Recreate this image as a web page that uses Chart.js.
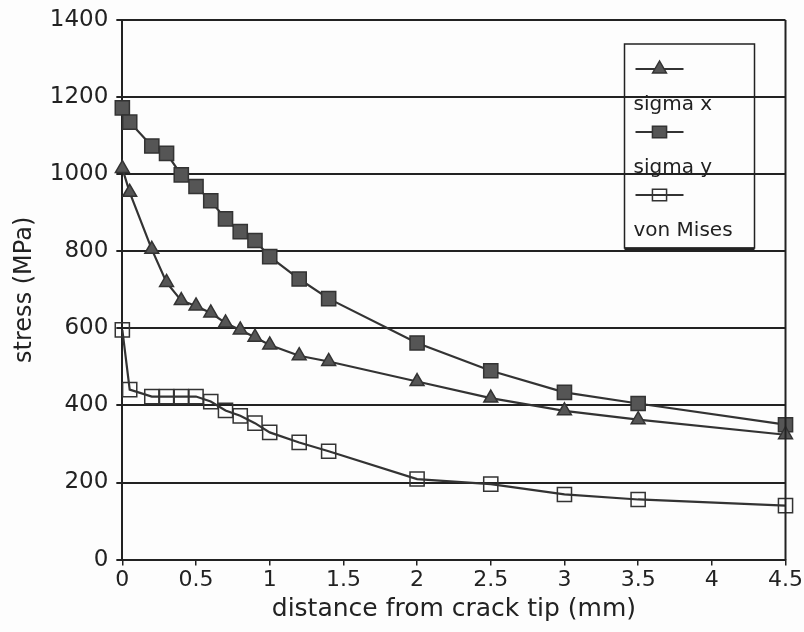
<!DOCTYPE html>
<html>
<head>
<meta charset="utf-8">
<script src="https://cdn.jsdelivr.net/npm/chart.js@4"></script>
<style>
  html, body { margin: 0; padding: 0; background: #fdfdfd; }
  #wrap { width: 804px; height: 632px; position: relative; }
</style>
</head>
<body>
<div id="wrap"><canvas id="graf"></canvas></div>
<script>
// distance from crack tip (mm)
const distancia = [0, 0.05, 0.2, 0.3, 0.4, 0.5, 0.6, 0.7, 0.8, 0.9, 1.0, 1.2, 1.4, 2.0, 2.5, 3.0, 3.5, 4.5];
// stress (MPa)
const sigmaX   = [1015, 953, 805, 719, 672, 658, 640, 614, 596, 577, 557, 529, 514, 462, 419, 386, 363, 324];
const sigmaY   = [1172, 1135, 1073, 1054, 998, 968, 931, 884, 851, 828, 786, 728, 677, 562, 490, 434, 405, 350];
const vonMises = [596, 441, 423, 423, 423, 423, 410, 387, 373, 354, 330, 304, 281, 209, 196, 169, 156, 140];
const nomes = ["sigma x", "sigma y", "von Mises"];
const xTicks = [0, 0.5, 1, 1.5, 2, 2.5, 3, 3.5, 4, 4.5];

const FONTE = "'DejaVu Sans', sans-serif";
const COR = "#333";

const pontos = arr => arr.map((v, i) => ({ x: distancia[i], y: v }));

/* borda direita + legenda desenhada à mão */
const bordaLegenda = {
  id: "bordaLegenda",
  afterDraw(chart) {
    const { ctx, chartArea: a } = chart;
    ctx.save();
    ctx.strokeStyle = "#222";
    ctx.lineWidth = 2;
    ctx.beginPath();
    ctx.moveTo(a.right, a.top);
    ctx.lineTo(a.right, a.bottom);
    ctx.stroke();

    // caixa da legenda
    const L = a.right - 161, T = a.top + 24, W = 130, H = 204;
    ctx.lineWidth = 1.5;
    ctx.strokeRect(L, T, W, H);
    ctx.lineWidth = 3;
    ctx.beginPath();
    ctx.moveTo(L, T + H + 1);
    ctx.lineTo(L + W, T + H + 1);
    ctx.stroke();

    ctx.font = "20px " + FONTE;
    ctx.textBaseline = "middle";
    chart.data.datasets.forEach((ds, i) => {
      const yl = T + 25 + i * 63;
      ctx.strokeStyle = COR;
      ctx.lineWidth = 2;
      ctx.beginPath();
      ctx.moveTo(L + 11, yl);
      ctx.lineTo(L + 59, yl);
      ctx.stroke();
      ctx.fillStyle = ds.pointBackgroundColor;
      ctx.strokeStyle = ds.pointBorderColor;
      ctx.lineWidth = 1.5;
      ctx.beginPath();
      if (ds.pointStyle === "triangle") {
        const r = ds.pointRadius;
        ctx.moveTo(L + 35, yl - r);
        ctx.lineTo(L + 35 - r * 0.866, yl + r / 2);
        ctx.lineTo(L + 35 + r * 0.866, yl + r / 2);
        ctx.closePath();
      } else {
        const s = ds.pointRadius * Math.SQRT1_2;
        ctx.rect(L + 35 - s, yl - s * 0.8, 2 * s, 2 * s * 0.8);
      }
      ctx.fill();
      ctx.stroke();
      ctx.fillStyle = "#222";
      ctx.fillText(ds.label, L + 9, yl + 36);
    });
    ctx.restore();
  }
};

const baseSerie = {
  borderColor: COR,
  borderWidth: 2.2,
  pointBorderColor: COR,
  pointBorderWidth: 1.5,
  tension: 0,
  clip: false
};

new Chart(document.getElementById("graf"), {
  type: "line",
  plugins: [bordaLegenda],
  data: {
    datasets: [
      { ...baseSerie, label: nomes[0], data: pontos(sigmaX), pointStyle: "triangle",
        pointRadius: 8, pointBackgroundColor: "#555" },
      { ...baseSerie, label: nomes[1], data: pontos(sigmaY), pointStyle: "rect",
        pointRadius: 10, pointBackgroundColor: "#555" },
      { ...baseSerie, label: nomes[2], data: pontos(vonMises), pointStyle: "rect",
        pointRadius: 10, pointBackgroundColor: "rgba(0,0,0,0)" }
    ]
  },
  options: {
    responsive: true,
    maintainAspectRatio: false,
    animation: false,
    layout: { padding: { top: 20, right: 17, left: 10, bottom: 8 } },
    plugins: {
      legend: { display: false },
      tooltip: { enabled: false }
    },
    scales: {
      x: {
        type: "linear",
        min: 0, max: 4.5,
        afterBuildTicks: s => { s.ticks = xTicks.map(v => ({ value: v })); },
        ticks: { color: "#222", font: { family: FONTE, size: 22 }, padding: 1,
                 maxRotation: 0, autoSkip: false, callback: v => String(v) },
        grid: { drawOnChartArea: false, tickLength: 6, color: "#222", lineWidth: 1.5 },
        border: { color: "#222", width: 2 },
        title: { display: true, text: "distance from crack tip (mm)", color: "#222",
                 font: { family: FONTE, size: 25 }, padding: { top: 0, bottom: 0 } }
      },
      y: {
        min: 0, max: 1400,
        ticks: { stepSize: 200, color: "#222", font: { family: FONTE, size: 23, lineHeight: 1.0 },
                 padding: 8, callback: v => String(v) },
        grid: { color: "#222", lineWidth: 2, tickLength: 6 },
        border: { color: "#222", width: 2 },
        title: { display: true, text: "stress (MPa)", color: "#222",
                 font: { family: FONTE, size: 24 }, padding: { top: 0, bottom: 3 } }
      }
    }
  }
});
</script>
</body>
</html>
